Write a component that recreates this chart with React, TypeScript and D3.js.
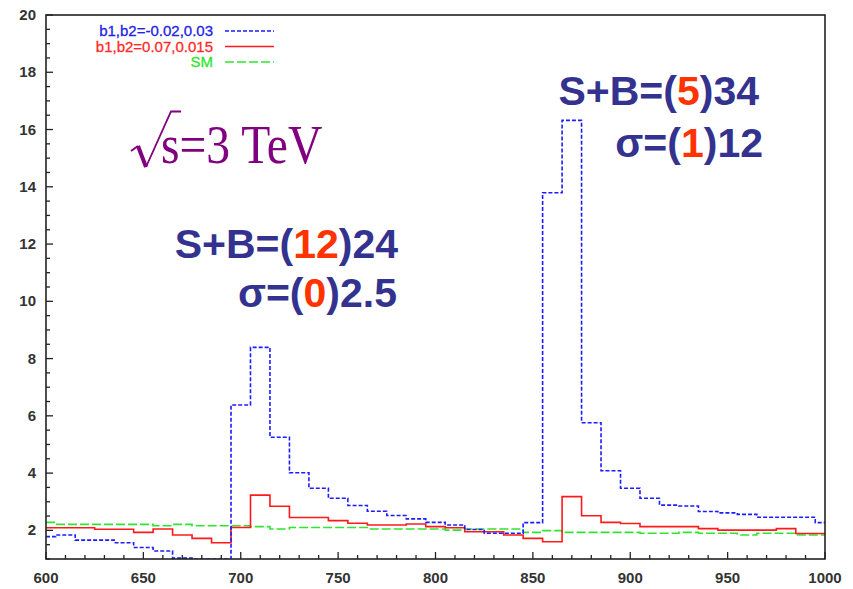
import React from "react";
import * as d3 from "d3";

// Bin centres (GeV), 10 GeV bins
const binCenters: number[] = d3.range(600, 1001, 10);

// Event counts per bin for each hypothesis
const blueValues: number[] = [
  1.78, 1.84, 1.66, 1.66, 1.57, 1.4, 1.28, 1.03, 1.0, 1.0,
  6.38, 8.39, 5.25, 4.01, 3.47, 3.12, 2.87, 2.67, 2.52, 2.4,
  2.28, 2.19, 2.03, 1.9, 1.9, 2.27, 13.79, 16.32, 5.76, 4.08,
  3.47, 3.12, 2.88, 2.85, 2.66, 2.61, 2.56, 2.46, 2.46, 2.46, 2.27,
];
const redValues: number[] = [
  2.09, 2.09, 2.09, 2.04, 2.04, 1.93, 2.05, 1.84, 1.72, 1.57,
  2.1, 3.23, 2.84, 2.45, 2.45, 2.34, 2.25, 2.19, 2.19, 2.22,
  2.13, 2.09, 1.95, 1.95, 1.84, 1.72, 1.6, 3.18, 2.51, 2.28,
  2.24, 2.13, 2.13, 2.13, 2.06, 2.01, 2.01, 2.01, 2.06, 1.89, 1.89,
];
const greenValues: number[] = [
  2.28, 2.21, 2.21, 2.21, 2.21, 2.21, 2.16, 2.21, 2.16, 2.16,
  2.16, 2.13, 2.05, 2.1, 2.1, 2.1, 2.1, 2.05, 2.05, 2.05,
  2.05, 2.01, 2.05, 2.05, 2.05, 1.93, 1.99, 1.93, 1.93, 1.93,
  1.93, 1.9, 1.9, 1.93, 1.9, 1.9, 1.84, 1.9, 1.9, 1.84, 1.84,
];

const seriesLabels: string[] = ["b1,b2=-0.02,0.03", "b1,b2=0.07,0.015", "SM"];
const xTickValues: number[] = d3.range(600, 1001, 50);
const yTickValues: number[] = d3.range(2, 21, 2);

const W = 853;
const H = 589;
const left = 46;
const right = 825;
const top = 15;
const bottom = 559;

const x = d3.scaleLinear().domain([600, 1000]).range([left, right]);
const y = d3.scaleLinear().domain([1, 20]).range([bottom, top]);

function stepPath(values: number[]): string {
  const pts: [number, number][] = [];
  binCenters.forEach((c, i) => {
    const a = Math.max(600, c - 5);
    const b = Math.min(1000, c + 5);
    pts.push([a, values[i]], [b, values[i]]);
  });
  return (
    d3
      .line<[number, number]>()
      .x((d) => x(d[0]))
      .y((d) => y(d[1]))(pts) || ""
  );
}

const series = [
  { label: seriesLabels[0], values: blueValues, color: "#1c1cff", text: "#2323e6", dash: "4,2" },
  { label: seriesLabels[1], values: redValues, color: "#ff1a1a", text: "#ff2a2a", dash: "" },
  { label: seriesLabels[2], values: greenValues, color: "#2ee62e", text: "#2ee62e", dash: "9,3" },
];

const NAVY = "#33338f";
const ORANGE = "#ff3300";
const PURPLE = "#800080";

export default function App() {
  const xMinor = d3.range(600, 1001, 10);
  const yMinor = d3.range(1, 20.01, 0.5);
  return (
    <svg width={W} height={H} style={{ position: "absolute", left: 0, top: 0 }}>
      <defs>
        <clipPath id="plotArea">
          <rect x={left} y={top} width={right - left} height={bottom - top} />
        </clipPath>
      </defs>
      <rect x={0} y={0} width={W} height={H} fill="#fff" />

      {/* histograms */}
      <g clipPath="url(#plotArea)">
        {series
          .slice()
          .reverse()
          .map((s) => (
            <path
              key={s.label}
              d={stepPath(s.values)}
              fill="none"
              stroke={s.color}
              strokeWidth={1.6}
              strokeDasharray={s.dash || undefined}
            />
          ))}
      </g>

      {/* frame */}
      <rect
        x={left}
        y={top}
        width={right - left}
        height={bottom - top}
        fill="none"
        stroke="#222"
        strokeWidth={1.6}
      />

      {/* x ticks */}
      {xMinor.map((v) => {
        const major = v % 50 === 0;
        return (
          <line
            key={"xt" + v}
            x1={x(v)}
            x2={x(v)}
            y1={bottom}
            y2={bottom - (major ? 7 : 4)}
            stroke="#222"
            strokeWidth={1.3}
          />
        );
      })}
      {xTickValues.map((v) => (
        <text
          key={"xl" + v}
          x={x(v)}
          y={583}
          textAnchor="middle"
          fontFamily="Liberation Sans, Arial, sans-serif"
          fontWeight="bold"
          fontSize={15}
          fill="#333"
        >
          {v}
        </text>
      ))}

      {/* y ticks */}
      {yMinor.map((v) => {
        const major = Math.abs(v % 2) < 1e-6;
        return (
          <line
            key={"yt" + v}
            x1={left}
            x2={left + (major ? 7 : 4)}
            y1={y(v)}
            y2={y(v)}
            stroke="#222"
            strokeWidth={1.3}
          />
        );
      })}
      {yTickValues.map((v) => (
        <text
          key={"yl" + v}
          x={36}
          y={y(v) + 5}
          textAnchor="end"
          fontFamily="Liberation Sans, Arial, sans-serif"
          fontWeight="bold"
          fontSize={15}
          fill="#333"
        >
          {v}
        </text>
      ))}

      {/* legend */}
      {series.map((s, i) => {
        const cy = 31 + i * 15.5;
        return (
          <g key={"lg" + i}>
            <text
              x={213}
              y={cy + 5}
              textAnchor="end"
              fontFamily="Liberation Sans, Arial, sans-serif"
              fontSize={15}
              fill={s.text}
              stroke={s.text}
              strokeWidth={0.3}
            >
              {s.label}
            </text>
            <line
              x1={225}
              x2={274}
              y1={cy}
              y2={cy}
              stroke={s.color}
              strokeWidth={1.6}
              strokeDasharray={s.dash || undefined}
            />
          </g>
        );
      })}

      {/* centre-of-mass energy: radical sign drawn as a stroke, then the text */}
      <path d="M131,151 L138,146" stroke={PURPLE} strokeWidth={2} fill="none" />
      <path d="M138,146 L146,167" stroke={PURPLE} strokeWidth={4} fill="none" />
      <path d="M146,167 L171,111.5 L181,111.5" stroke={PURPLE} strokeWidth={1.8} fill="none" />
      <text
        transform="translate(161,163) scale(0.865,1)"
        fontFamily="Liberation Serif, Times New Roman, serif"
        fontSize={55}
        fill={PURPLE}
      >
        s=3 TeV
      </text>

      {/* significance annotations */}
      <g fontFamily="Liberation Sans, Arial, sans-serif" fontWeight="bold" fontSize={41} fill={NAVY}>
        <text x={398} y={258} textAnchor="end">
          S+B=(<tspan fill={ORANGE}>12</tspan>)24
        </text>
        <text x={397} y={307} textAnchor="end">
          σ=(<tspan fill={ORANGE}>0</tspan>)2.5
        </text>
        <text x={759} y={105} textAnchor="end">
          S+B=(<tspan fill={ORANGE}>5</tspan>)34
        </text>
        <text x={763} y={157} textAnchor="end">
          σ=(<tspan fill={ORANGE}>1</tspan>)12
        </text>
      </g>
    </svg>
  );
}
